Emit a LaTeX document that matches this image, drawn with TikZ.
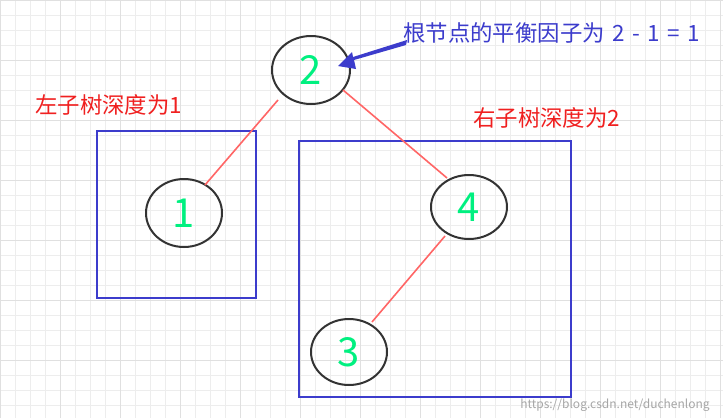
\documentclass[tikz,border=0pt]{standalone}
\usepackage{fontspec}
\setmainfont{Noto Sans CJK SC}
\usetikzlibrary{arrows.meta}
\definecolor{grn}{HTML}{00F080}
\definecolor{bl}{HTML}{3C3CCC}
\definecolor{rd}{HTML}{FF6666}
\definecolor{txr}{HTML}{F02020}
\begin{document}
\begin{tikzpicture}[x=0.75pt,y=-0.75pt,
  num/.style={font=\fontsize{30}{32}\selectfont,text=grn},
  el/.style={draw=black!80,line width=1.5pt},
  bx/.style={draw=bl,line width=1.4pt},
  ed/.style={draw=rd,line width=1.2pt},
  lab/.style={font=\fontsize{16.8}{18}\selectfont,anchor=west,inner sep=0pt}]
\fill[white] (0,0) rectangle (723,418);
\useasboundingbox (0,0) rectangle (723,418);
\draw[black!7,line width=0.5pt,step=11.25pt] (0,0) grid (723,418);
\draw[black!12,line width=0.6pt,step=45pt] (0,0) grid (723,418);
\draw[bx] (97,131) rectangle (256,298);
\draw[bx] (299,141) rectangle (571,397);
\draw[el] (311,70) ellipse [x radius=39,y radius=34];
\node[num] (n2) at (311,70) {2};
\draw[el] (184,213) ellipse [x radius=38,y radius=34];
\node[num] (n1) at (184,213) {1};
\draw[el] (469,207) ellipse [x radius=38,y radius=32];
\node[num] (n4) at (469,207) {4};
\draw[el] (349,352) ellipse [x radius=38,y radius=33];
\node[num] (n3) at (349,352) {3};
\coordinate (a1) at (278,100); \coordinate (b1) at (205,185);
\coordinate (a2) at (343,90); \coordinate (b2) at (447,178);
\coordinate (a3) at (445,236); \coordinate (b3) at (372,322);
\draw[ed] (a1) -- (b1);
\draw[ed] (a2) -- (b2);
\draw[ed] (a3) -- (b3);
\node[lab,text=bl] (t0) at (403,33) {根节点的平衡因子为\,\,2\,\,-\,\,1\,\,=\,\,1};
\coordinate (tip) at (338,66);
\fill[bl] (407,40) -- (406,45) -- (354,60) -- (356,69) -- (tip) -- (352,52) -- (353,57) -- cycle;
\node[lab,text=txr] (t1) at (35,105) {左子树深度为1};
\node[lab,text=txr] (t2) at (473,118) {右子树深度为2};
\node[lab,text=black!35,font=\fontsize{9}{10}\selectfont] (wm) at (520,405) {https://blog.csdn.net/duchenlong};
\end{tikzpicture}
\end{document}
